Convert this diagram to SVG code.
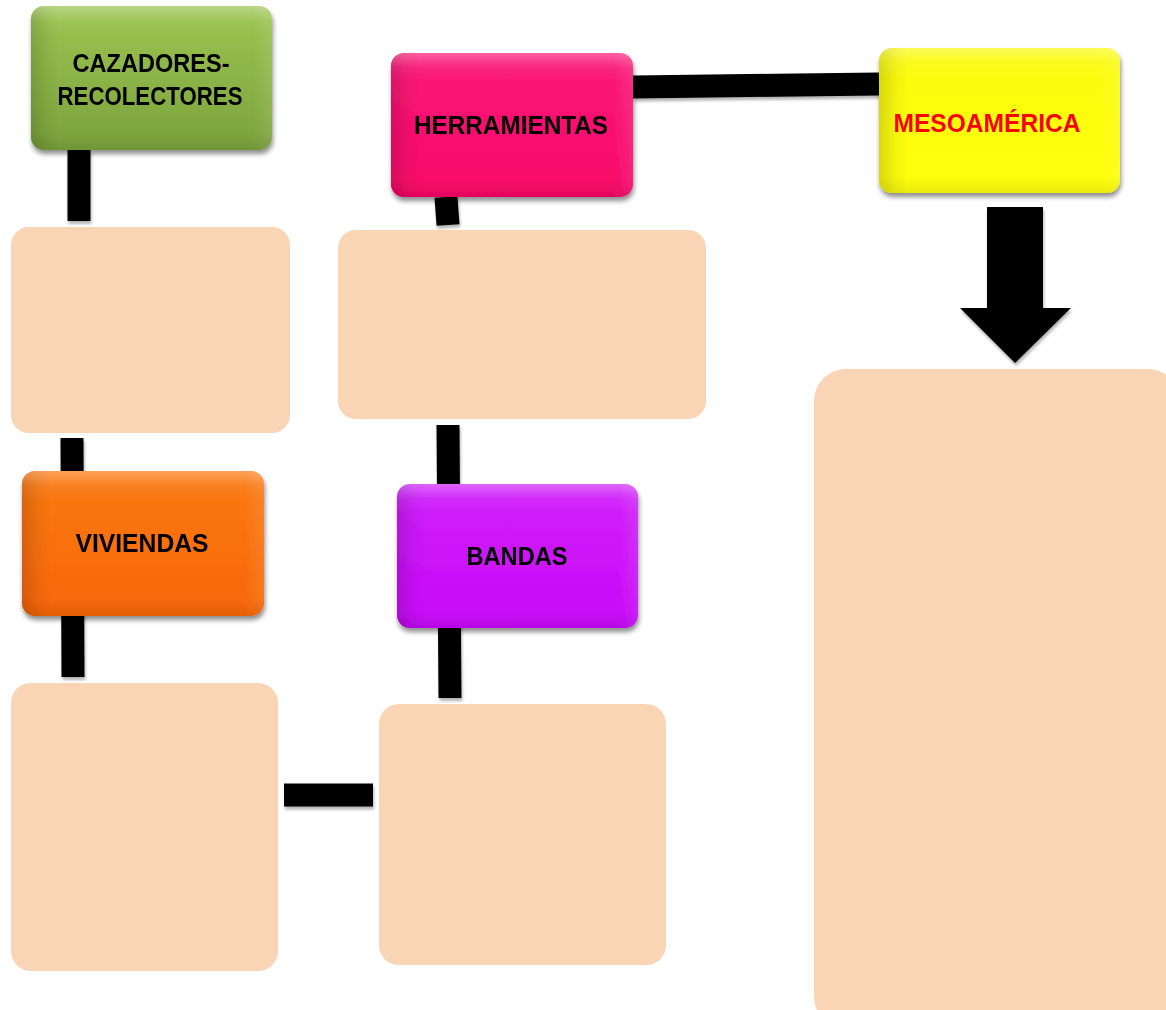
<svg xmlns="http://www.w3.org/2000/svg" width="1166" height="1010" viewBox="0 0 1166 1010">
  <style>
    .lbl { font-family: "Liberation Sans", Arial, sans-serif; font-weight: bold; font-size: 26px; text-anchor: middle; fill: #000; }
    .red { fill: #FF0000; }
    .box { fill: #FAD5B5; }
    .conn { stroke: #000; stroke-width: 23; fill: none; stroke-linecap: butt; }
  </style>
  <defs>
    <filter id="sh" x="-10%" y="-10%" width="125%" height="130%">
      <feGaussianBlur in="SourceAlpha" stdDeviation="2.5"/>
      <feOffset dx="1" dy="4" result="b"/>
      <feComponentTransfer><feFuncA type="linear" slope="0.45"/></feComponentTransfer>
      <feMerge><feMergeNode/><feMergeNode in="SourceGraphic"/></feMerge>
    </filter>
    <filter id="csh" x="-10%" y="-30%" width="120%" height="160%">
      <feGaussianBlur in="SourceAlpha" stdDeviation="1.5"/>
      <feOffset dx="1" dy="3"/>
      <feComponentTransfer><feFuncA type="linear" slope="0.3"/></feComponentTransfer>
      <feMerge><feMergeNode/><feMergeNode in="SourceGraphic"/></feMerge>
    </filter>
    <linearGradient id="gGreen" x1="0" y1="0" x2="0" y2="1">
      <stop offset="0" stop-color="#9CC551"/>
      <stop offset="1" stop-color="#7AA23C"/>
    </linearGradient>
    <linearGradient id="gPink" x1="0" y1="0" x2="0" y2="1">
      <stop offset="0" stop-color="#FA1A78"/>
      <stop offset="1" stop-color="#F80668"/>
    </linearGradient>
    <linearGradient id="gYellow" x1="0" y1="0" x2="0" y2="1">
      <stop offset="0" stop-color="#FAFA12"/>
      <stop offset="1" stop-color="#FFFF08"/>
    </linearGradient>
    <linearGradient id="gOrange" x1="0" y1="0" x2="0" y2="1">
      <stop offset="0" stop-color="#FA7A14"/>
      <stop offset="1" stop-color="#F86606"/>
    </linearGradient>
    <linearGradient id="gMag" x1="0" y1="0" x2="0" y2="1">
      <stop offset="0" stop-color="#D022FA"/>
      <stop offset="1" stop-color="#C806F8"/>
    </linearGradient>
    <linearGradient id="bevL" x1="0" y1="0" x2="1" y2="0">
      <stop offset="0" stop-color="#000" stop-opacity="0.14"/>
      <stop offset="0.07" stop-color="#000" stop-opacity="0.04"/>
      <stop offset="0.12" stop-color="#000" stop-opacity="0"/>
      <stop offset="0.92" stop-color="#fff" stop-opacity="0"/>
      <stop offset="1" stop-color="#fff" stop-opacity="0.1"/>
    </linearGradient>
    <linearGradient id="bevT" x1="0" y1="0" x2="0" y2="1">
      <stop offset="0" stop-color="#fff" stop-opacity="0.3"/>
      <stop offset="0.1" stop-color="#fff" stop-opacity="0.06"/>
      <stop offset="0.2" stop-color="#fff" stop-opacity="0"/>
      <stop offset="0.88" stop-color="#000" stop-opacity="0"/>
      <stop offset="1" stop-color="#000" stop-opacity="0.08"/>
    </linearGradient>
  </defs>

  <rect width="1166" height="1010" fill="#fff"/>

  <!-- content boxes -->
  <g id="box-cazadores"><rect class="box" x="11" y="227" width="279" height="206" rx="18"/></g>
  <g id="box-herramientas"><rect class="box" x="338" y="230" width="368" height="189" rx="18"/></g>
  <g id="box-mesoamerica"><rect class="box" x="814" y="369" width="366" height="660" rx="32"/></g>
  <g id="box-viviendas"><rect class="box" x="11" y="683" width="267" height="288" rx="20"/></g>
  <g id="box-bandas"><rect class="box" x="379" y="704" width="287" height="261" rx="20"/></g>

  <!-- connectors -->
  <g id="connectors" filter="url(#csh)">
    <line class="conn" x1="79" y1="150" x2="79" y2="221"/>
    <line class="conn" x1="72" y1="438" x2="73" y2="677"/>
    <line class="conn" x1="446" y1="197" x2="448" y2="225"/>
    <line class="conn" x1="448" y1="425" x2="450" y2="698"/>
    <line class="conn" x1="633" y1="87" x2="879" y2="84"/>
    <line class="conn" x1="284" y1="795" x2="373" y2="795" stroke-width="24"/>
    <polygon points="987,207 1043,207 1043,308 1071,308 1015,363 960,308 987,308" fill="#000"/>
  </g>

  <!-- nodes -->
  <g id="node-cazadores" filter="url(#sh)">
    <rect x="31" y="6" width="241" height="144" rx="13" fill="url(#gGreen)"/>
    <rect x="31" y="6" width="241" height="144" rx="13" fill="url(#bevL)"/>
    <rect x="31" y="6" width="241" height="144" rx="13" fill="url(#bevT)"/>
    <text class="lbl" x="151" y="72" textLength="157" lengthAdjust="spacingAndGlyphs">CAZADORES-</text>
    <text class="lbl" x="150" y="105" textLength="185" lengthAdjust="spacingAndGlyphs">RECOLECTORES</text>
  </g>
  <g id="node-herramientas" filter="url(#sh)">
    <rect x="391" y="53" width="242" height="144" rx="13" fill="url(#gPink)"/>
    <rect x="391" y="53" width="242" height="144" rx="13" fill="url(#bevL)"/>
    <rect x="391" y="53" width="242" height="144" rx="13" fill="url(#bevT)"/>
    <text class="lbl" x="511" y="134" textLength="194" lengthAdjust="spacingAndGlyphs">HERRAMIENTAS</text>
  </g>
  <g id="node-mesoamerica" filter="url(#sh)">
    <rect x="879" y="48" width="241" height="145" rx="13" fill="url(#gYellow)"/>
    <rect x="879" y="48" width="241" height="145" rx="13" fill="url(#bevL)"/>
    <rect x="879" y="48" width="241" height="145" rx="13" fill="url(#bevT)"/>
    <text class="lbl red" x="987" y="132" textLength="187" lengthAdjust="spacingAndGlyphs">MESOAMÉRICA</text>
  </g>
  <g id="node-viviendas" filter="url(#sh)">
    <rect x="22" y="471" width="242" height="145" rx="13" fill="url(#gOrange)"/>
    <rect x="22" y="471" width="242" height="145" rx="13" fill="url(#bevL)"/>
    <rect x="22" y="471" width="242" height="145" rx="13" fill="url(#bevT)"/>
    <text class="lbl" x="142" y="552" textLength="133" lengthAdjust="spacingAndGlyphs">VIVIENDAS</text>
  </g>
  <g id="node-bandas" filter="url(#sh)">
    <rect x="397" y="484" width="241" height="144" rx="13" fill="url(#gMag)"/>
    <rect x="397" y="484" width="241" height="144" rx="13" fill="url(#bevL)"/>
    <rect x="397" y="484" width="241" height="144" rx="13" fill="url(#bevT)"/>
    <text class="lbl" x="517" y="565" textLength="101" lengthAdjust="spacingAndGlyphs">BANDAS</text>
  </g>
</svg>
